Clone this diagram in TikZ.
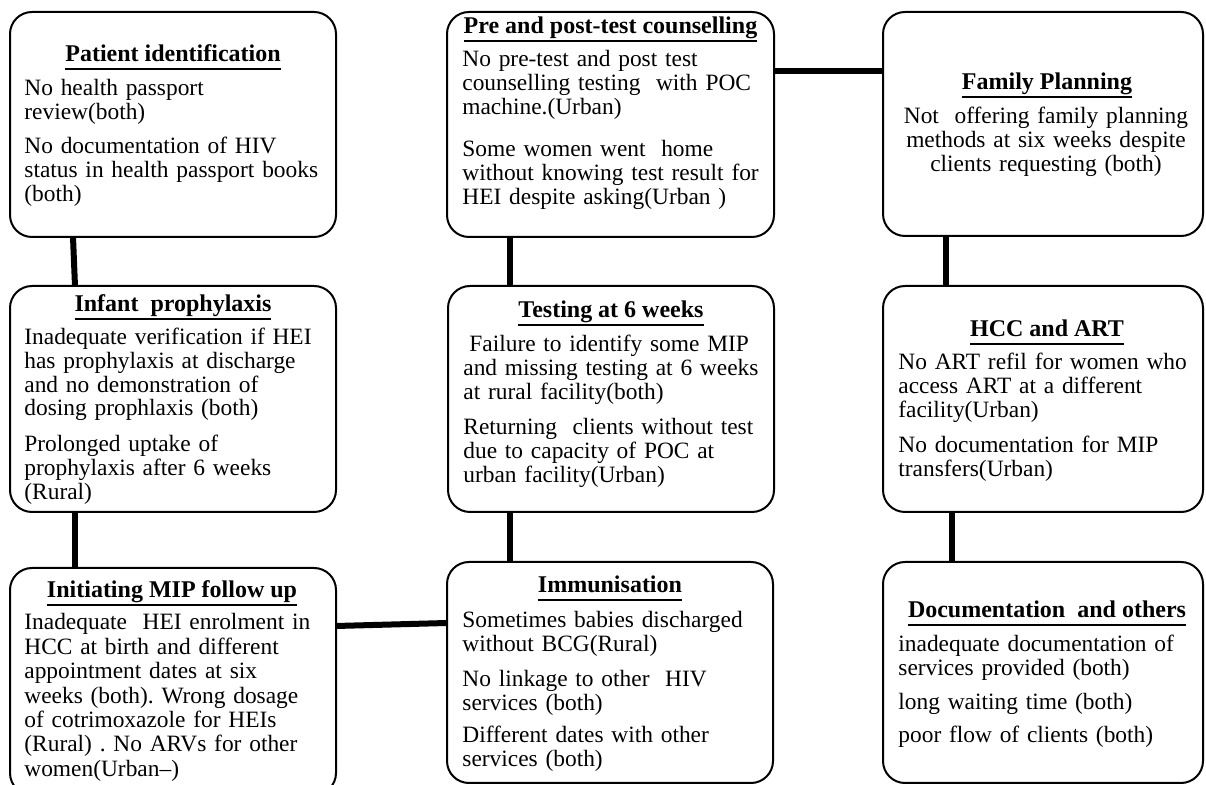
\documentclass[tikz,border=0pt]{standalone}
\usepackage{fontspec}
\setmainfont{Liberation Serif}
\frenchspacing
\newcommand\myul[1]{\setbox0=\hbox{\bfseries #1}\rlap{\rule[-3.8pt]{\wd0}{1pt}}\box0}
\begin{document}
\begin{tikzpicture}[x=0.5pt,y=-0.5pt,
  box/.style={draw, line width=1pt, rounded corners=11pt, inner sep=0pt, outer sep=0pt, fill=white},
  conn/.style={line width=3pt},
  ttl/.style={anchor=base, inner sep=0pt, font=\fontsize{12}{12}\selectfont\frenchspacing},
  para/.style={anchor=base west, inner sep=0pt, text width=170pt, align=left, font=\fontsize{11.7}{11.8}\selectfont\frenchspacing},
  cpara/.style={anchor=base, inner sep=0pt, text width=170pt, align=center, font=\fontsize{11.7}{11.8}\selectfont\frenchspacing}]
\clip (0,0) rectangle (1206,785);
\fill[white] (0,0) rectangle (1206,785);
% boxes
\node[box, minimum width=163pt, minimum height=112.5pt] (b1) at (173,124.5) {};
\node[box, minimum width=163.5pt, minimum height=112.5pt] (b2) at (610.5,124.5) {};
\node[box, minimum width=160pt, minimum height=112pt] (b3) at (1043,124) {};
\node[box, minimum width=163pt, minimum height=113pt] (b4) at (173,399) {};
\node[box, minimum width=163pt, minimum height=113pt] (b5) at (611,399) {};
\node[box, minimum width=160pt, minimum height=113pt] (b6) at (1043,399) {};
\node[box, minimum width=163pt, minimum height=113.5pt] (b7) at (173,681.5) {};
\node[box, minimum width=163pt, minimum height=110.5pt] (b8) at (610,672.5) {};
\node[box, minimum width=160pt, minimum height=110.5pt] (b9) at (1043,672.5) {};
% connectors
\coordinate (k1) at (73,0);
\coordinate (k2) at (75,0);
\coordinate (k3) at (510,0);
\coordinate (k4) at (946,0);
\coordinate (k5) at (952,0);
\coordinate (h1) at (0,71);
\coordinate (h2) at (0,626);
\coordinate (h3) at (0,623);
\draw[conn] (b1.south -| k1) -- (b4.north -| k2);
\draw[conn] (b4.south -| k2) -- (b7.north -| k2);
\draw[conn] (b2.south -| k3) -- (b5.north -| k3);
\draw[conn] (b5.south -| k3) -- (b8.north -| k3);
\draw[conn] (b3.south -| k4) -- (b6.north -| k4);
\draw[conn] (b6.south -| k5) -- (b9.north -| k5);
\draw[conn] (b2.east |- h1) -- (b3.west |- h1);
\draw[conn] (b7.east |- h2) -- (b8.west |- h3);
% box 1
\node[ttl] (t1) at (173,62) {\myul{Patient identification}};
\node[para] (p1a) at (24,96) {No health passport\\review(both)};
\node[para] (p1b) at (24,154) {No documentation of HIV\\status in health passport books\\(both)};
% box 2
\node[ttl] (t2) at (610.5,34) {\myul{Pre and post-test counselling}};
\node[para] (p2a) at (462,67) {No pre-test and post test\\counselling testing~ with POC\\machine.(Urban)};
\node[para] (p2b) at (462,157) {Some women went~ home\\without knowing test result for\\HEI despite asking(Urban )};
% box 3
\node[ttl] (t3) at (1047,90) {\myul{Family Planning}};
\node[cpara] (p3) at (1046,124) {Not~ offering family planning\\methods at six weeks despite\\clients requesting (both)};
% box 4
\node[ttl] (t4) at (173,312) {\myul{Infant~ prophylaxis}};
\node[para] (p4a) at (24,345) {Inadequate verification if HEI\\has prophylaxis at discharge\\and no demonstration of\\dosing prophlaxis (both)};
\node[para] (p4b) at (24,452) {Prolonged uptake of\\prophylaxis after 6 weeks\\(Rural)};
% box 5
\node[ttl] (t5) at (611,318) {\myul{Testing at 6 weeks}};
\node[para] (p5a) at (463,352) {\hspace*{3pt}Failure to identify some MIP\\and missing testing at 6 weeks\\at rural facility(both)};
\node[para] (p5b) at (463,435) {Returning~ clients without test\\due to capacity of POC at\\urban facility(Urban)};
% box 6
\node[ttl] (t6) at (1047,337) {\myul{HCC and ART}};
\node[para] (p6a) at (898,370) {No ART refil for women who\\access ART at a different\\facility(Urban)};
\node[para] (p6b) at (898,453) {No documentation for MIP\\transfers(Urban)};
% box 7
\node[ttl] (t7) at (172,598) {\myul{Initiating MIP follow up}};
\node[para, font=\fontsize{11.7}{12.2}\selectfont\frenchspacing] (p7) at (24,630) {Inadequate~ HEI enrolment in\\HCC at birth and different\\appointment dates at six\\weeks (both). Wrong dosage\\of cotrimoxazole for HEIs\\(Rural) . No ARVs for other\\women(Urban--)};
% box 8
\node[ttl] (t8) at (610,593) {\myul{Immunisation}};
\node[para] (p8a) at (462,628) {Sometimes babies discharged\\without BCG(Rural)};
\node[para] (p8b) at (462,687) {No linkage to other~ HIV\\services (both)};
\node[para] (p8c) at (462,743) {Different dates with other\\services (both)};
% box 9
\node[ttl] (t9) at (1047,618) {\myul{Documentation~ and others}};
\node[para] (p9a) at (898,652) {inadequate documentation of\\services provided (both)};
\node[para] (p9b) at (898,710) {long waiting time (both)};
\node[para] (p9c) at (898,743) {poor flow of clients (both)};
\end{tikzpicture}
\end{document}
